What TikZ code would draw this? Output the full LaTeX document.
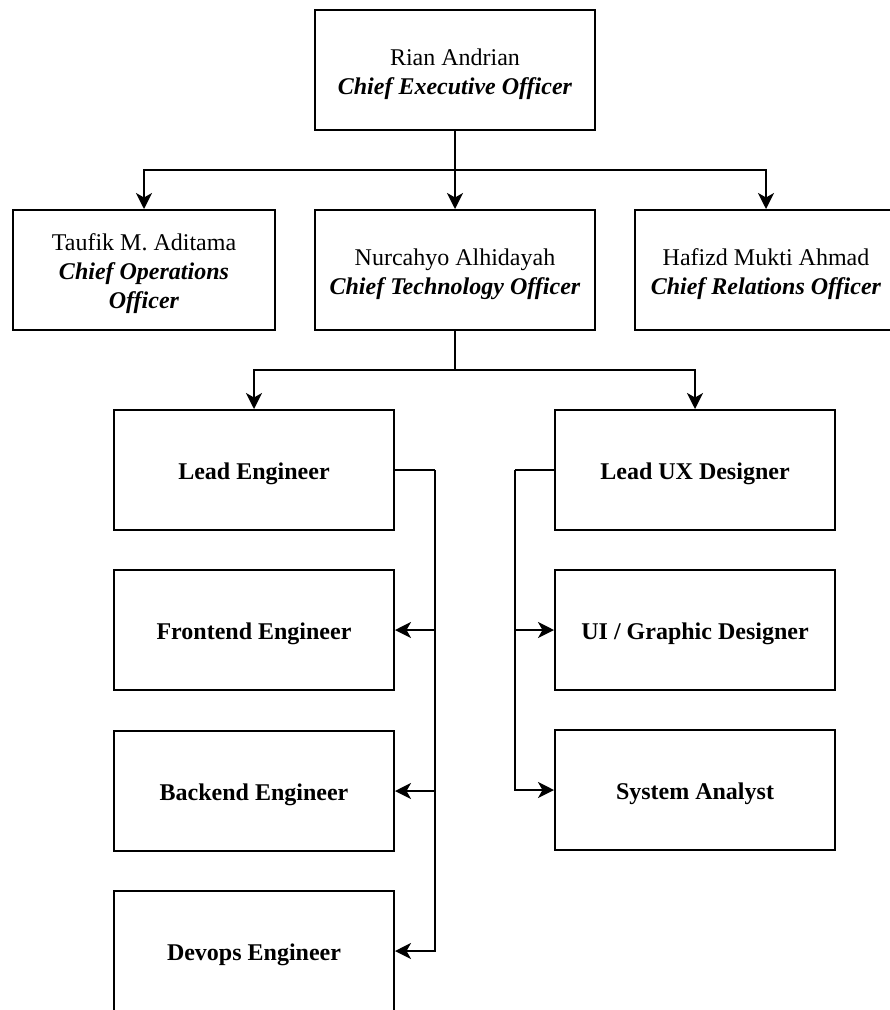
\documentclass[tikz,border=0pt]{standalone}
\usepackage{fontspec}
\setmainfont{Liberation Serif}
\usetikzlibrary{arrows.meta}
\newcommand\rolett[1]{\textbf{\textit{#1}}}
\newcommand\lowtext[1]{\raisebox{-4pt}[\height][\depth]{\begin{tabular}{@{}c@{}}#1\end{tabular}}}
\begin{document}
\begin{tikzpicture}[x=1pt,y=-1pt,
  box/.style={draw,line width=2pt,rectangle,inner sep=0pt,
    font=\fontsize{24}{29}\selectfont},
  wide/.style={box,minimum width=280pt,minimum height=120pt},
  arr/.style={line width=2pt,-{Stealth[length=16pt,width=16pt,inset=4.5pt]}},
  ln/.style={line width=2pt},
  ttl/.style={font=\fontsize{24}{29}\selectfont\bfseries}]
\useasboundingbox (0,0) rectangle (890,1010);
\fill[white] (0,0) rectangle (890,1010);
\node[box,minimum width=280pt,minimum height=120pt] (ceo) at (455,70)
  {\lowtext{Rian Andrian\\\rolett{Chief Executive Officer}}};
\node[box,minimum width=262pt,minimum height=120pt] (tau) at (144,270)
  {\lowtext{Taufik M. Aditama\\\rolett{Chief Operations}\\\rolett{Officer}}};
\node[box,minimum width=280pt,minimum height=120pt] (nur) at (455,270)
  {\lowtext{Nurcahyo Alhidayah\\\rolett{Chief Technology Officer}}};
\node[box,minimum width=262pt,minimum height=120pt] (haf) at (766,270)
  {\lowtext{Hafizd Mukti Ahmad\\\rolett{Chief Relations Officer}}};
\node[wide,ttl] (le) at (254,470) {\lowtext{Lead Engineer}};
\node[wide,ttl] (fe) at (254,630) {\lowtext{Frontend Engineer}};
\node[wide,ttl] (be) at (254,791) {\lowtext{Backend Engineer}};
\node[wide,ttl] (de) at (254,951) {\lowtext{Devops Engineer}};
\node[wide,ttl] (ux) at (695,470) {\lowtext{Lead UX Designer}};
\node[wide,ttl] (ui) at (695,630) {\lowtext{UI / Graphic Designer}};
\node[wide,ttl] (sa) at (695,790) {\lowtext{System Analyst}};
\coordinate (j1) at (455,170);
\coordinate (j2) at (455,370);
\draw[arr] (ceo.south) -- (nur.north);
\draw[arr] (j1) -| (tau.north);
\draw[arr] (j1) -| (haf.north);
\draw[ln] (nur.south) -- (j2);
\draw[arr] (j2) -| (le.north);
\draw[arr] (j2) -| (ux.north);
\coordinate (r1) at (435,470);
\draw[ln] (le.east) -- (r1);
\draw[arr] (r1) |- (fe.east);
\draw[arr] (r1) |- (be.east);
\draw[arr] (r1) |- (de.east);
\coordinate (r2) at (515,470);
\draw[ln] (ux.west) -- (r2);
\draw[arr] (r2) |- (ui.west);
\draw[arr] (r2) |- (sa.west);
\end{tikzpicture}
\end{document}
